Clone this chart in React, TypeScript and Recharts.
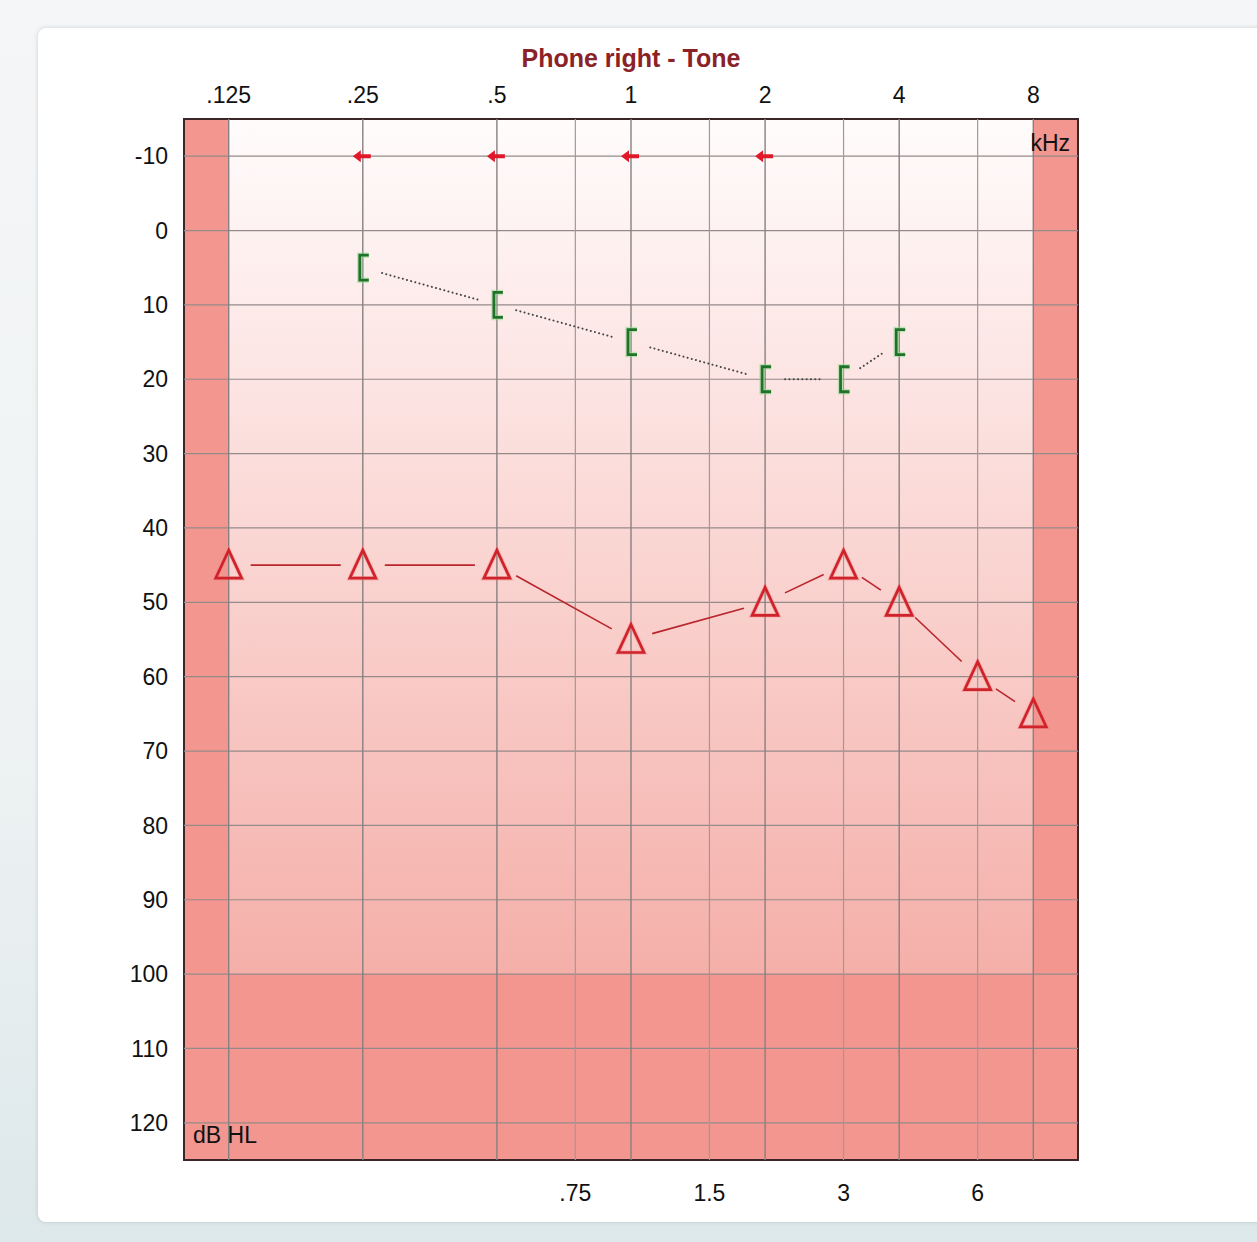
import React from 'react';
import {
  ScatterChart,
  Scatter,
  XAxis,
  YAxis,
  ReferenceArea,
  ReferenceLine,
} from 'recharts';

// ---- data ----
const acFreqs = [0.125, 0.25, 0.5, 1, 2, 3, 4, 6, 8];
const acLevels = [45, 45, 45, 55, 50, 45, 50, 60, 65];
const bcFreqs = [0.25, 0.5, 1, 2, 3, 4];
const bcLevels = [5, 10, 15, 20, 20, 15];
const arrowFreqs = [0.25, 0.5, 1, 2];
const arrowLevels = [-10, -10, -10, -10];
const topTicks = [0.125, 0.25, 0.5, 1, 2, 4, 8];
const topLabels = ['.125', '.25', '.5', '1', '2', '4', '8'];
const bottomTicks = [0.75, 1.5, 3, 6];
const bottomLabels = ['.75', '1.5', '3', '6'];
const dbTicks = [-10, 0, 10, 20, 30, 40, 50, 60, 70, 80, 90, 100, 110, 120];
const octaveLines = [0.125, 0.25, 0.5, 1, 2, 4, 8];
const halfLines = [0.75, 1.5, 3, 6];

const fMin = 0.125 * Math.pow(2, -1 / 3);
const fMax = 8 * Math.pow(2, 1 / 3);
const dbMin = -15;
const dbMax = 125;

const acData = acFreqs.map((f, i) => ({ f, db: acLevels[i] }));
const bcData = bcFreqs.map((f, i) => ({ f, db: bcLevels[i] }));
const arrowData = arrowFreqs.map((f, i) => ({ f, db: arrowLevels[i] }));

const FONT = '"Liberation Sans", Arial, sans-serif';

const gappedLine = (gap: number, stroke: string, width: number, dash?: string) => (props: any) => {
  const pts = props.points || [];
  const segs: any[] = [];
  for (let i = 0; i < pts.length - 1; i++) {
    const a = pts[i];
    const b = pts[i + 1];
    const dx = b.x - a.x;
    const dy = b.y - a.y;
    const L = Math.hypot(dx, dy);
    if (L <= 2 * gap) continue;
    const ux = dx / L;
    const uy = dy / L;
    segs.push(
      <line
        key={i}
        x1={a.x + ux * gap}
        y1={a.y + uy * gap}
        x2={b.x - ux * gap}
        y2={b.y - uy * gap}
        stroke={stroke}
        strokeWidth={width}
        strokeDasharray={dash}
        strokeLinecap={dash ? 'round' : 'butt'}
      />
    );
  }
  return <g>{segs}</g>;
};

const Triangle = (p: any) => {
  const { cx, cy } = p;
  if (cx == null || cy == null) return null;
  const d = `M${cx},${cy - 15} L${cx + 13},${cy + 13} L${cx - 13},${cy + 13} Z`;
  return (
    <g>
      <path d={d} fill="none" stroke="#f08080" strokeWidth={4.5} strokeOpacity={0.4} strokeLinejoin="miter" />
      <path d={d} fill="none" stroke="#d0222a" strokeWidth={2.7} strokeLinejoin="miter" />
    </g>
  );
};

const Bracket = (p: any) => {
  const { cx, cy } = p;
  if (cx == null || cy == null) return null;
  const d = `M${cx + 6},${cy - 12.5} L${cx - 3},${cy - 12.5} L${cx - 3},${cy + 12.5} L${cx + 6},${cy + 12.5}`;
  return (
    <g>
      <path d={d} fill="none" stroke="#8fdc8f" strokeWidth={5.5} strokeOpacity={0.55} />
      <path d={d} fill="none" stroke="#1f7228" strokeWidth={2.8} />
    </g>
  );
};

const Arrow = (p: any) => {
  const { cx, cy } = p;
  if (cx == null || cy == null) return null;
  const d = `M${cx - 10},${cy} L${cx - 2},${cy - 6} L${cx - 2},${cy - 2} L${cx + 8},${cy - 2} L${cx + 8},${cy + 2} L${cx - 2},${cy + 2} L${cx - 2},${cy + 6} Z`;
  return <path d={d} fill="#e0182a" />;
};

const tickStyle = { fill: '#111', fontSize: 23, fontFamily: FONT };

export default function App() {
  return (
    <div
      style={{
        position: 'absolute',
        left: 0,
        top: 0,
        width: 1257,
        height: 1242,
        overflow: 'hidden',
        background: 'linear-gradient(180deg, #f5f6f7 0%, #eef2f3 60%, #dde8ea 100%)',
        fontFamily: FONT,
      }}
    >
      <div
        style={{
          position: 'absolute',
          left: 38,
          top: 28,
          width: 1240,
          height: 1194,
          background: '#ffffff',
          borderRadius: 8,
          boxShadow: '0 0 4px rgba(120,140,150,0.35)',
        }}
      />
      <div style={{ position: 'absolute', left: 0, top: 0 }}>
        <ScatterChart
          width={1257}
          height={1242}
          margin={{ top: 79, right: 179, bottom: 42, left: 104 }}
        >
          <defs>
            <linearGradient id="bgGrad" x1="0" y1="0" x2="0" y2="1">
              <stop offset="0%" stopColor="#fffcfc" />
              <stop offset="100%" stopColor="#f5afa9" />
            </linearGradient>
          </defs>
          <XAxis
            xAxisId="top"
            orientation="top"
            type="number"
            dataKey="f"
            scale="log"
            domain={[fMin, fMax]}
            allowDataOverflow
            ticks={topTicks}
            interval={0}
            tickFormatter={(v: number) => topLabels[topTicks.indexOf(v)] ?? ''}
            tick={tickStyle}
            tickSize={0}
            tickMargin={16}
            axisLine={false}
            tickLine={false}
            height={40}
          />
          <XAxis
            xAxisId="bottom"
            orientation="bottom"
            type="number"
            dataKey="f"
            scale="log"
            domain={[fMin, fMax]}
            allowDataOverflow
            ticks={bottomTicks}
            interval={0}
            tickFormatter={(v: number) => bottomLabels[bottomTicks.indexOf(v)] ?? ''}
            tick={tickStyle}
            tickSize={0}
            tickMargin={25}
            axisLine={false}
            tickLine={false}
            height={40}
          />
          <YAxis
            yAxisId="db"
            type="number"
            dataKey="db"
            reversed
            domain={[dbMin, dbMax]}
            allowDataOverflow
            ticks={dbTicks}
            interval={0}
            tick={tickStyle}
            tickSize={0}
            tickMargin={16}
            axisLine={false}
            tickLine={false}
            width={80}
          />
          <ReferenceArea xAxisId="top" yAxisId="db" x1={fMin} x2={fMax} y1={dbMin} y2={100} fill="url(#bgGrad)" fillOpacity={1} stroke="none" />
          <ReferenceArea xAxisId="top" yAxisId="db" x1={fMin} x2={fMax} y1={100} y2={dbMax} fill="#f2968f" fillOpacity={1} stroke="none" />
          <ReferenceArea xAxisId="top" yAxisId="db" x1={fMin} x2={0.125} y1={dbMin} y2={dbMax} fill="#f2968f" fillOpacity={1} stroke="none" />
          <ReferenceArea xAxisId="top" yAxisId="db" x1={8} x2={fMax} y1={dbMin} y2={dbMax} fill="#f2968f" fillOpacity={1} stroke="none" />
          {dbTicks.map((v) => (
            <ReferenceLine key={'h' + v} xAxisId="top" yAxisId="db" y={v} stroke="#948a8a" strokeWidth={1.2} />
          ))}
          {halfLines.map((v) => (
            <ReferenceLine key={'hv' + v} xAxisId="top" yAxisId="db" x={v} stroke="#a39898" strokeWidth={1.2} />
          ))}
          {octaveLines.map((v) => (
            <ReferenceLine key={'ov' + v} xAxisId="top" yAxisId="db" x={v} stroke="#878080" strokeWidth={1.4} />
          ))}
          <ReferenceArea xAxisId="top" yAxisId="db" x1={fMin} x2={fMax} y1={dbMin} y2={dbMax} fill="none" stroke="#3a2626" strokeWidth={2} />
          <Scatter
            xAxisId="top"
            yAxisId="db"
            data={bcData}
            isAnimationActive={false}
            line={gappedLine(20, '#444444', 2, '0.1 4.2')}
            shape={Bracket}
          />
          <Scatter
            xAxisId="top"
            yAxisId="db"
            data={acData}
            isAnimationActive={false}
            line={gappedLine(22, '#b8252b', 1.6)}
            shape={Triangle}
          />
          <Scatter
            xAxisId="top"
            yAxisId="db"
            data={arrowData}
            isAnimationActive={false}
            shape={Arrow}
          />
        </ScatterChart>
      </div>
      <div
        style={{
          position: 'absolute',
          left: 431,
          width: 400,
          top: 42,
          textAlign: 'center',
          fontSize: 25,
          fontWeight: 'bold',
          color: '#8a2228',
          lineHeight: '32px',
        }}
      >
        Phone right - Tone
      </div>
      <div
        style={{
          position: 'absolute',
          left: 968,
          width: 102,
          top: 128,
          textAlign: 'right',
          fontSize: 23,
          color: '#111',
          lineHeight: '30px',
        }}
      >
        kHz
      </div>
      <div
        style={{
          position: 'absolute',
          left: 193,
          top: 1120,
          fontSize: 23,
          color: '#111',
          lineHeight: '30px',
        }}
      >
        dB HL
      </div>
    </div>
  );
}
